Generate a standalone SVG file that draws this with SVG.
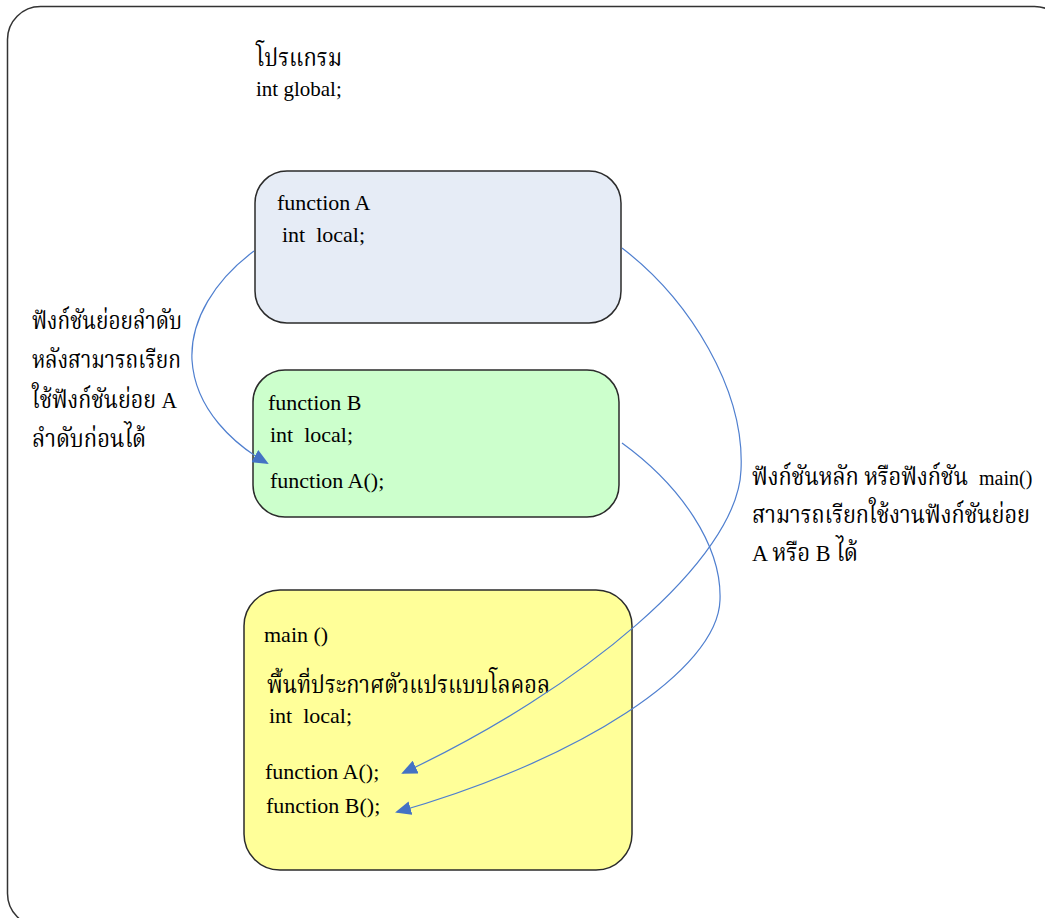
<svg xmlns="http://www.w3.org/2000/svg" width="1045" height="918" viewBox="0 0 1045 918">
<style>
.t{font-family:"Liberation Serif","Noto Serif Thai","Noto Sans Thai","DejaVu Sans",serif;fill:#000;white-space:pre}
.c{font-size:22px}
.th{font-size:24px}
.box{stroke:#2b2b2b;stroke-width:1.5}
.conn{fill:none;stroke:#4f7fcf;stroke-width:1.2}
</style>
<defs>
<marker id="ah" markerUnits="userSpaceOnUse" markerWidth="16" markerHeight="14" refX="14" refY="7" orient="auto">
<path d="M0,0 L16,7 L0,14 z" fill="#4472c4"/>
</marker>
</defs>
<rect x="7.5" y="6.5" width="1060" height="920" rx="33" ry="33" fill="#fff" stroke="#333" stroke-width="1.5"/>
<g id="header">
<text class="t th" x="256" y="66" textLength="86" lengthAdjust="spacingAndGlyphs">โปรแกรม</text>
<text class="t" style="font-size:21px" x="256" y="96">int global;</text>
</g>
<g id="functionA">
<rect class="box" x="255" y="171" width="366" height="152" rx="32" fill="#e6ecf6"/>
<text class="t c" x="277" y="210">function A</text>
<text class="t c" x="282" y="242">int  local;</text>
</g>
<g id="functionB">
<rect class="box" x="253" y="370" width="366" height="147" rx="32" fill="#ccffcc"/>
<text class="t c" x="268" y="410">function B</text>
<text class="t c" x="270" y="442">int  local;</text>
<text class="t c" x="270" y="488">function A();</text>
</g>
<g id="main">
<rect class="box" x="244" y="590" width="388" height="280" rx="36" fill="#ffff99"/>
<text class="t c" x="264" y="642">main ()</text>
<text class="t th" x="267" y="693" textLength="283" lengthAdjust="spacingAndGlyphs">พื้นที่ประกาศตัวแปรแบบโลคอล</text>
<text class="t c" x="269" y="723">int  local;</text>
<text class="t c" x="265" y="779">function A();</text>
<text class="t c" x="266" y="813">function B();</text>
</g>
<g id="note-left">
<text class="t th" x="32" y="329" textLength="150" lengthAdjust="spacingAndGlyphs">ฟังก์ชันย่อยลำดับ</text>
<text class="t th" x="32" y="368" textLength="149" lengthAdjust="spacingAndGlyphs">หลังสามารถเรียก</text>
<text class="t th" x="32" y="408" textLength="145" lengthAdjust="spacingAndGlyphs">ใช้ฟังก์ชันย่อย A</text>
<text class="t th" x="32" y="447" textLength="114" lengthAdjust="spacingAndGlyphs">ลำดับก่อนได้</text>
</g>
<g id="note-right">
<text class="t th" x="752" y="485" textLength="216" lengthAdjust="spacingAndGlyphs">ฟังก์ชันหลัก หรือฟังก์ชัน</text>
<text class="t" style="font-size:20px" x="979" y="485">main()</text>
<text class="t th" x="752" y="523" textLength="278" lengthAdjust="spacingAndGlyphs">สามารถเรียกใช้งานฟังก์ชันย่อย</text>
<text class="t th" x="752" y="561" textLength="106" lengthAdjust="spacingAndGlyphs">A หรือ B ได้</text>
</g>
<g id="connectors">
<path class="conn" marker-end="url(#ah)" d="M254,251 C215,280 190,320 192,360 C195,410 235,445 267,463"/>
<path class="conn" marker-end="url(#ah)" d="M622,248 C690,300 745,390 741,470 C738,560 580,690 403,773"/>
<path class="conn" marker-end="url(#ah)" d="M622,443 C680,485 722,545 720,600 C718,670 580,760 397,812"/>
</g>
</svg>
